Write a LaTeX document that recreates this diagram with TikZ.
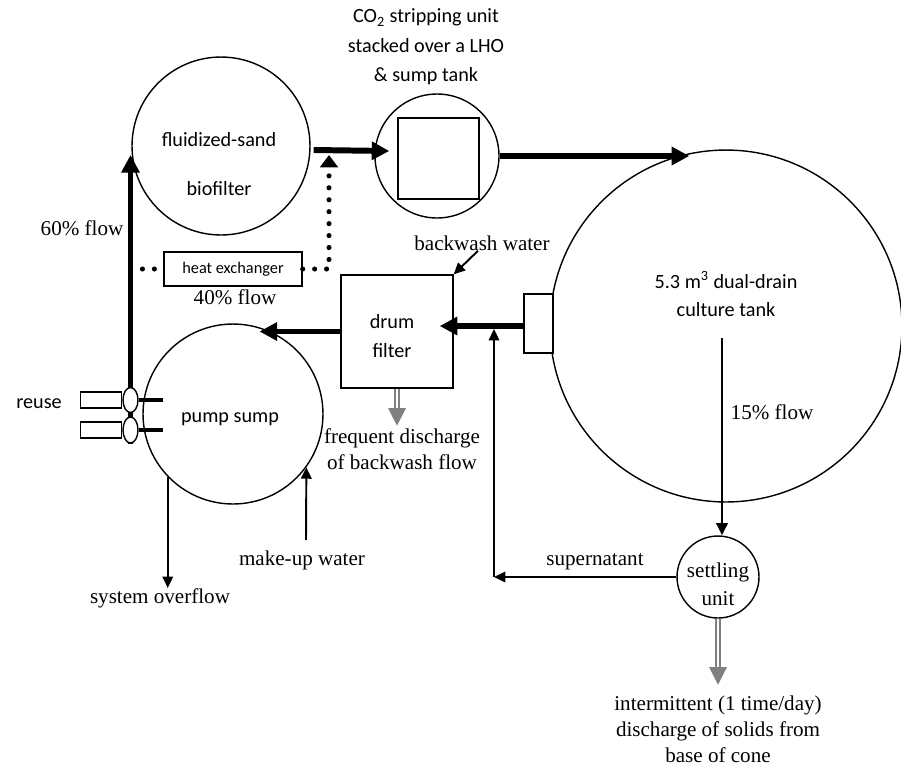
\documentclass[tikz,border=0pt]{standalone}
\usepackage{fontspec}
\setmainfont{Liberation Serif}
\setsansfont{Carlito}
\usetikzlibrary{positioning,arrows.meta,shapes.geometric,backgrounds}

\begin{document}
\begin{tikzpicture}[
  x=0.02cm, y=-0.02cm,
  vessel/.style={draw, circle, line width=0.8pt, inner sep=0pt},
  box/.style={draw, line width=0.8pt, inner sep=0pt},
  pumpbody/.style={draw, ellipse, fill=white, line width=0.8pt, minimum width=0.3cm, minimum height=0.5cm, inner sep=0pt},
  sans/.style={font=\sffamily\fontsize{11.5}{16}\selectfont, align=center, inner sep=0pt},
  serif/.style={font=\fontsize{12}{14.5}\selectfont, align=center, inner sep=0pt},
  flow/.style={-{Triangle[length=10pt,width=10pt]}, line width=3.4pt},
  pipe/.style={-{Triangle[length=6.5pt,width=6pt]}, line width=1.1pt},
  drain/.style={-{Triangle[length=7pt,width=6.5pt]}, line width=1.6pt},
  bypass/.style={line width=2.9pt, line cap=round, dash pattern=on 0pt off 6.8pt},
  waste/.style={draw=gray, line width=0.7pt, double=white, double distance=1.6pt, -{Triangle[length=10pt,width=10pt,fill=gray]}}
]
\useasboundingbox (0,0) rectangle (901,768);

% vessels and units
\node[vessel, minimum size=3.56cm] (bio) at (221,146) {};
\node[sans, font=\sffamily\fontsize{11.5}{27.8}\selectfont] (biotext) at (219,164) {fluidized-sand\\biofilter};
\node[vessel, minimum size=2.48cm] (co2) at (437,156) {};
\node[box, minimum size=1.62cm] (stripper) at (438.5,158.5) {};
\node[sans, font=\sffamily\fontsize{11.5}{16.7}\selectfont] (co2text) at (426,47) {CO\textsubscript{2} stripping unit\\stacked over a LHO\\\& sump tank};
\node[vessel, minimum size=7.04cm] (tank) at (726,326) {};
\node[box, fill=white, minimum width=0.58cm, minimum height=1.18cm] (outlet) at (538.5,323.5) {};
\node[sans] (tanktext) at (726,294) {5.3 m\textsuperscript{3} dual-drain\\culture tank};
\node[box, minimum width=2.24cm, minimum height=2.26cm] (drum) at (397,331.5) {};
\node[sans, font=\sffamily\fontsize{11.5}{16.4}\selectfont] (drumtext) at (392,336) {drum\\filter};
\node[box, minimum width=2.76cm, minimum height=0.68cm, font=\sffamily\fontsize{9.3}{11}\selectfont] (hx) at (233,269) {heat exchanger};
\node[vessel, minimum size=3.6cm] (sump) at (233,414) {};
\node[sans] (sumptext) at (230,419) {pump sump};
\node[vessel, minimum size=1.64cm] (settle) at (718,577) {};
\node[serif, font=\fontsize{12}{15.9}\selectfont] (settletext) at (718,584) {settling\\unit};

% pumps
\node[pumpbody] (pump1) at (130.5,400) {};
\node[pumpbody, minimum height=0.52cm] (pump2) at (130.5,430) {};
\node[box, minimum width=0.82cm, minimum height=0.32cm, anchor=east] (reuse1) at (pump1.west) {};
\node[box, minimum width=0.82cm, minimum height=0.32cm, anchor=east] (reuse2) at (pump2.west) {};
\draw[line width=2pt] (pump1.east) -- ++(24,0);
\draw[line width=2pt] (pump2.east) -- ++(24,0);

% labels
\node[sans] (reusetext) at (39,404) {reuse};
\node[serif] (up60) at (82,228) {60\% flow};
\node[serif] (by40) at (235,297) {40\% flow};
\node[serif] (bwtext) at (482,243) {backwash water};
\node[serif] (fdtext) at (402,449) {frequent discharge\\of backwash flow};
\node[serif] (ovtext) at (160,598) {system overflow};
\node[serif] (mutext) at (302,560) {make-up water};
\node[serif] (suptext) at (595,562) {supernatant};
\node[serif] (p15text) at (772,412) {15\% flow};
\node[serif, font=\fontsize{12}{14.7}\selectfont] (soltext) at (718,729) {intermittent (1 time/day)\\discharge of solids from\\base of cone};

\coordinate (junc) at (329,155);
\coordinate (ret) at (494,577);
\coordinate (tankdrain) at (722,338);
\coordinate (makeup) at (306,540);

% main loop
\begin{scope}[on background layer]
\draw[flow, shorten >=0.18cm] (pump2.south) -- (pump2.south |- bio.west);
\end{scope}
\draw[flow] ([shift={(3,4)}]bio.east) -- ([shift={(15,-5)}]co2.west);
\draw[flow] (co2.east) -- (co2.east -| tank.102);
\draw[flow] ([yshift=-0.05cm]outlet.west) -- ([shift={(-14,2.5)}]drum.east |- outlet.west);
\draw[flow] (drum.west) -- (drum.west -| sump.73);

% heat exchanger side stream
\draw[bypass] (hx.west -| pump1.center) -- (hx.west);
\draw[bypass, -{Triangle[length=7pt,width=10pt]}] (hx.east) -- (hx.east -| junc) -- (junc);

% other flows
\draw[pipe] ([xshift=-0.08cm]bwtext.south) -- (drum.north east);
\draw[waste] (drum.south) -- ++(0,37);
\draw[waste] (settle.south) -- ++(0,66);
\draw[drain] (tankdrain) -- (tankdrain |- settle.north);
\draw[pipe] (settle.west) -- (ret);
\draw[pipe, shorten >=0.11cm] (ret) -- (ret |- outlet.west);
\draw[pipe] (sump.224) -- (sump.224 |- ovtext.north);
\draw[pipe] (makeup) -- (sump.324);
\end{tikzpicture}
\end{document}
